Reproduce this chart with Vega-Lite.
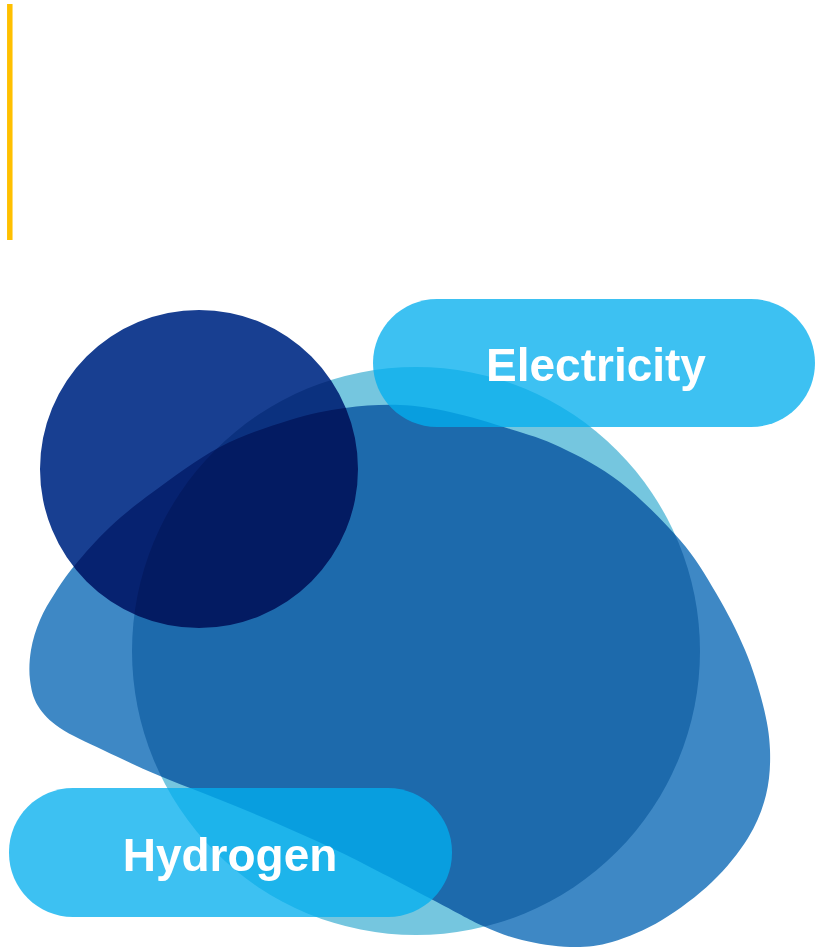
{
  "$schema": "https://vega.github.io/schema/vega-lite/v6.json",
  "width": 816,
  "height": 951,
  "padding": 0,
  "autosize": {"type": "none"},
  "background": "white",
  "config": {"view": {"stroke": null}},
  "datasets": {
    "blob": [
      {"i": 0, "x": 30, "y": 680},
      {"i": 1, "x": 31, "y": 650},
      {"i": 2, "x": 40, "y": 620},
      {"i": 3, "x": 55, "y": 593},
      {"i": 4, "x": 75, "y": 565},
      {"i": 5, "x": 110, "y": 527},
      {"i": 6, "x": 153, "y": 492},
      {"i": 7, "x": 220, "y": 447},
      {"i": 8, "x": 290, "y": 420},
      {"i": 9, "x": 345, "y": 408},
      {"i": 10, "x": 400, "y": 405},
      {"i": 11, "x": 450, "y": 412},
      {"i": 12, "x": 510, "y": 429},
      {"i": 13, "x": 560, "y": 447},
      {"i": 14, "x": 620, "y": 482},
      {"i": 15, "x": 680, "y": 540},
      {"i": 16, "x": 716, "y": 593},
      {"i": 17, "x": 745, "y": 650},
      {"i": 18, "x": 763, "y": 705},
      {"i": 19, "x": 770, "y": 750},
      {"i": 20, "x": 766, "y": 795},
      {"i": 21, "x": 748, "y": 838},
      {"i": 22, "x": 712, "y": 882},
      {"i": 23, "x": 662, "y": 920},
      {"i": 24, "x": 612, "y": 942},
      {"i": 25, "x": 570, "y": 947},
      {"i": 26, "x": 522, "y": 940},
      {"i": 27, "x": 483, "y": 926},
      {"i": 28, "x": 433, "y": 900},
      {"i": 29, "x": 340, "y": 852},
      {"i": 30, "x": 250, "y": 812},
      {"i": 31, "x": 160, "y": 776},
      {"i": 32, "x": 103, "y": 750},
      {"i": 33, "x": 60, "y": 728},
      {"i": 34, "x": 38, "y": 706}
    ],
    "circles": [
      {"name": "big", "x": 416, "y": 651, "size": 322624},
      {"name": "navy", "x": 199, "y": 469, "size": 101124}
    ],
    "pills": [
      {"label": "Electricity", "x": 373, "x2": 815, "y": 299, "y2": 427, "tx": 596, "ty": 381},
      {"label": "Hydrogen", "x": 9, "x2": 452, "y": 788, "y2": 917, "tx": 230, "ty": 871}
    ],
    "bar": [{"x": 9.8, "y": 4, "y2": 240}]
  },
  "layer": [
    {
      "data": {"name": "circles"},
      "transform": [{"filter": "datum.name == 'big'"}],
      "mark": {"type": "point", "shape": "circle", "filled": true, "opacity": 1, "strokeWidth": 0, "color": "#75C6DF"},
      "encoding": {
        "x": {"field": "x", "type": "quantitative", "scale": {"domain": [0, 816]}, "axis": null},
        "y": {"field": "y", "type": "quantitative", "scale": {"domain": [0, 951], "reverse": true}, "axis": null},
        "size": {"field": "size", "type": "quantitative", "scale": null, "legend": null}
      }
    },
    {
      "data": {"name": "blob"},
      "mark": {"type": "line", "filled": true, "interpolate": "cardinal-closed", "color": "#3E88C5", "strokeWidth": 0, "blend": "multiply"},
      "encoding": {
        "x": {"field": "x", "type": "quantitative", "scale": {"domain": [0, 816]}, "axis": null},
        "y": {"field": "y", "type": "quantitative", "scale": {"domain": [0, 951], "reverse": true}, "axis": null},
        "order": {"field": "i", "type": "quantitative"}
      }
    },
    {
      "data": {"name": "circles"},
      "transform": [{"filter": "datum.name == 'navy'"}],
      "mark": {"type": "point", "shape": "circle", "filled": true, "opacity": 1, "strokeWidth": 0, "color": "#183F91", "blend": "multiply"},
      "encoding": {
        "x": {"field": "x", "type": "quantitative", "scale": {"domain": [0, 816]}, "axis": null},
        "y": {"field": "y", "type": "quantitative", "scale": {"domain": [0, 951], "reverse": true}, "axis": null},
        "size": {"field": "size", "type": "quantitative", "scale": null, "legend": null}
      }
    },
    {
      "data": {"name": "pills"},
      "mark": {"type": "rect", "cornerRadius": 64, "color": "#03AEEE", "opacity": 0.77},
      "encoding": {
        "x": {"field": "x", "type": "quantitative", "scale": {"domain": [0, 816]}, "axis": null},
        "x2": {"field": "x2"},
        "y": {"field": "y", "type": "quantitative", "scale": {"domain": [0, 951], "reverse": true}, "axis": null},
        "y2": {"field": "y2"}
      }
    },
    {
      "data": {"name": "pills"},
      "mark": {"type": "text", "font": "Liberation Sans", "fontWeight": "bold", "fontSize": 46, "color": "white", "align": "center", "baseline": "alphabetic"},
      "encoding": {
        "x": {"field": "tx", "type": "quantitative", "scale": {"domain": [0, 816]}, "axis": null},
        "y": {"field": "ty", "type": "quantitative", "scale": {"domain": [0, 951], "reverse": true}, "axis": null},
        "text": {"field": "label"}
      }
    },
    {
      "data": {"name": "bar"},
      "mark": {"type": "rule", "color": "#FFC000", "strokeWidth": 5.5},
      "encoding": {
        "x": {"field": "x", "type": "quantitative", "scale": {"domain": [0, 816]}, "axis": null},
        "y": {"field": "y", "type": "quantitative", "scale": {"domain": [0, 951], "reverse": true}, "axis": null},
        "y2": {"field": "y2"}
      }
    }
  ]
}
